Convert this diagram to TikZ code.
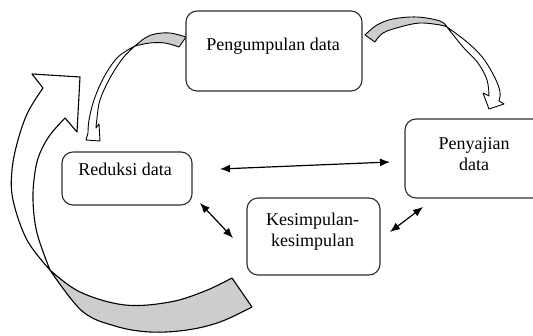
\documentclass[tikz,border=0pt]{standalone}
\usepackage{fontspec}
\setmainfont{Liberation Serif}
\usetikzlibrary{arrows.meta}
\definecolor{bandgray}{RGB}{205,205,205}
\definecolor{edgecol}{RGB}{45,45,45}
\begin{document}
\begin{tikzpicture}[x=1pt,y=-1pt,
  box/.style={draw=edgecol, line width=1.1pt, rounded corners=11pt, fill=white, inner sep=0pt},
  lbl/.style={font=\fontsize{18}{21}\selectfont, anchor=base, inner sep=0pt},
  link/.style={line width=1.2pt, {Latex[length=10pt,width=8pt]}-{Latex[length=10pt,width=8pt]}},
  band/.style={draw=black, line width=1.1pt, line join=round},
  smallband/.style={draw=black, line width=0.9pt, line join=round},
]
\clip (0,0) rectangle (533,336);

% big circular arrow: white front part
\filldraw[band, fill=white]
  plot[smooth, tension=0.6] coordinates {(50,270) (27,240) (13,200) (12,170) (18,140) (28,112) (43,88)}
  -- (32,74) -- (80,77) -- (77,132) -- (65,118)
  -- plot[smooth, tension=0.6] coordinates {(65,118) (50,135) (40,153) (35,172) (33,200) (37,233) (50,270)}
  -- cycle;
% big circular arrow: gray back part
\filldraw[band, fill=bandgray]
  plot[smooth, tension=0.6] coordinates {(50,270) (80,292) (125,305) (170,302) (205,291) (232,278)}
  -- (252,307)
  -- plot[smooth, tension=0.6] coordinates {(252,307) (220,322) (187,330) (150,332) (115,326) (82,311) (50,270)}
  -- cycle;

% small arrow Pengumpulan -> Reduksi
\filldraw[smallband, fill=bandgray]
  plot[smooth, tension=0.6] coordinates {(186,37) (170,33) (155,34) (145,38) (135,46)}
  -- plot[smooth, tension=0.6] coordinates {(135,46) (150,43) (165,43) (179,47)}
  -- cycle;
\filldraw[smallband, fill=white]
  plot[smooth, tension=0.6] coordinates {(135,46) (118,57) (104,77) (94,100) (89,120) (88,133)}
  -- (86,140) -- (100,141) -- (99,124) -- (96,128)
  -- plot[smooth, tension=0.6] coordinates {(96,128) (97,118) (100,100) (110,78) (123,58) (135,46)}
  -- cycle;

% small arrow Pengumpulan -> Penyajian
\filldraw[smallband, fill=bandgray]
  plot[smooth, tension=0.6] coordinates {(365,35) (377,25) (393,19) (417,17) (440,21) (447,27)}
  -- plot[smooth, tension=0.6] coordinates {(447,27) (440,25) (420,23) (400,27) (383,33) (375,42)}
  -- cycle;
\filldraw[smallband, fill=white]
  plot[smooth, tension=0.6] coordinates {(447,27) (467,42) (483,58) (495,78) (500,92) (499,101)}
  -- (504,104) -- (489,109) -- (483,93) -- (489,96)
  -- plot[smooth, tension=0.6] coordinates {(489,96) (487,80) (478,63) (463,47) (447,27)}
  -- cycle;

% boxes
\node[box, minimum width=176pt, minimum height=80pt] (P) at (274,51) {};
\node[box, minimum width=130pt, minimum height=53pt] (R) at (127,178.5) {};
\node[box, minimum width=133pt, minimum height=77pt] (K) at (313.5,236.5) {};
\node[box, minimum width=145pt, minimum height=79pt] (S) at (477.5,158.5) {};

% texts
\node[lbl] (Pt) at (273,51) {Pengumpulan data};
\node[lbl] (Rt) at (125,176) {Reduksi data};
\node[lbl] (Kt1) at (312.5,226) {Kesimpulan-};
\node[lbl] (Kt2) at (312.5,247) {kesimpulan};
\node[lbl] (St1) at (474,150) {Penyajian};
\node[lbl] (St2) at (474,171) {data};

% straight connectors
\coordinate (rs1) at (220,169);
\coordinate (rs2) at (390,162);
\coordinate (rk1) at (200,203);
\coordinate (rk2) at (233,238);
\coordinate (ks1) at (390,232);
\coordinate (ks2) at (423,207);
\draw[link] (rs1) -- (rs2);
\draw[link] (rk1) -- (rk2);
\draw[link] (ks1) -- (ks2);
\end{tikzpicture}
\end{document}
